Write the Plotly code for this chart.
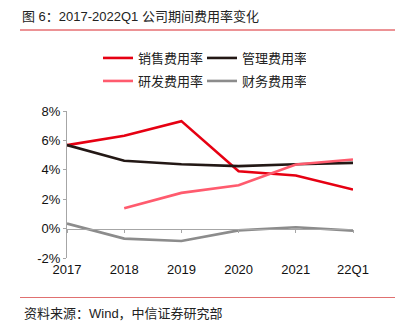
import plotly.graph_objects as go

# Period expense ratios (%), 2017 to 2022Q1
periods = ["2017", "2018", "2019", "2020", "2021", "22Q1"]
selling = [5.68, 6.31, 7.31, 3.90, 3.61, 2.66]
admin = [5.68, 4.61, 4.38, 4.25, 4.38, 4.47]
rnd = [None, 1.38, 2.43, 2.95, 4.36, 4.70]
finance = [0.34, -0.68, -0.84, -0.12, 0.09, -0.14]

series_names = ["销售费用率", "管理费用率", "研发费用率", "财务费用率"]
series_colors = ["#E60012", "#231815", "#FF5B6E", "#8C8C8C"]

y_ticks = [-2, 0, 2, 4, 6, 8]

FONT = "Liberation Sans, Arial, Noto Sans CJK SC, sans-serif"
AXIS_GRAY = "#A6A6A6"

fig = go.Figure()

series_values = [selling, admin, rnd, finance]
legend_ids = ["legend", "legend", "legend2", "legend2"]
for name, vals, color, lg in zip(series_names, series_values, series_colors, legend_ids):
    fig.add_trace(go.Scatter(
        x=periods, y=vals, name=name, mode="lines",
        line=dict(color=color, width=2.6),
        legend=lg, connectgaps=False,
        xaxis="x2" if name == "财务费用率" else "x",
        hoverinfo="skip",
    ))

W, H = 403, 328
L, R, T, B = 67, 50, 111, 70
plot_h = H - T - B
plot_w = W - L - R


def py(px_y):
    """Convert a pixel row to paper y."""
    return (H - B - px_y) / plot_h


def px(px_x):
    """Convert a pixel column to paper x."""
    return (px_x - L) / plot_w


zero_pos = (0 - y_ticks[0]) / (y_ticks[-1] - y_ticks[0])

legend_common = dict(
    orientation="h", xanchor="left", yanchor="middle",
    font=dict(family=FONT, size=13, color="#222222"),
    bgcolor="rgba(0,0,0,0)", itemwidth=30, tracegroupgap=0,
    entrywidth=59, entrywidthmode="pixels",
)

fig.update_layout(
    width=W, height=H,
    margin=dict(l=L, r=R, t=T, b=B, pad=0),
    paper_bgcolor="white", plot_bgcolor="white",
    font=dict(family=FONT, size=13, color="#111111"),
    title=dict(
        text="图 6：2017-2022Q1 公司期间费用率变化",
        x=22 / W, xanchor="left", xref="container",
        y=1 - 16 / H, yanchor="middle", yref="container",
        font=dict(family=FONT, size=13, color="#222222"),
    ),
    xaxis=dict(
        type="category", range=[0, len(periods) - 1],
        showline=False, ticks="", showgrid=False, zeroline=False,
        tickfont=dict(family=FONT, size=13, color="#111111"),
        ticklabelstandoff=2,
    ),
    xaxis2=dict(
        type="category", range=[0, len(periods) - 1],
        overlaying="x", anchor="free", position=zero_pos, side="bottom",
        showline=True, linecolor=AXIS_GRAY, linewidth=1,
        ticks="outside", ticklen=3, tickcolor=AXIS_GRAY, tickwidth=1,
        showticklabels=False, showgrid=False, zeroline=False,
    ),
    yaxis=dict(
        range=[y_ticks[0], y_ticks[-1]], tickvals=y_ticks,
        ticktext=[f"{v}%" for v in y_ticks],
        showline=True, linecolor=AXIS_GRAY, linewidth=1,
        ticks="outside", ticklen=3, tickcolor=AXIS_GRAY,
        showgrid=False, zeroline=False,
        tickfont=dict(family=FONT, size=13, color="#111111"),
    ),
    legend=dict(x=px(98), y=py(58), **legend_common),
    legend2=dict(x=px(98), y=py(81), **legend_common),
    showlegend=True,
)

# Red rules under the heading and above the source note
fig.add_shape(type="line", xref="paper", yref="paper",
              x0=px(20), x1=px(395), y0=py(30), y1=py(30),
              line=dict(color="#D9262C", width=1))
fig.add_shape(type="line", xref="paper", yref="paper",
              x0=px(20), x1=px(395), y0=py(297.5), y1=py(297.5),
              line=dict(color="#E07070", width=1.2))

fig.add_annotation(
    text="资料来源：Wind，中信证券研究部", xref="paper", yref="paper",
    x=px(22), y=py(313), xanchor="left", yanchor="middle", showarrow=False,
    font=dict(family=FONT, size=13, color="#222222"),
)

fig.write_html("out.html")
